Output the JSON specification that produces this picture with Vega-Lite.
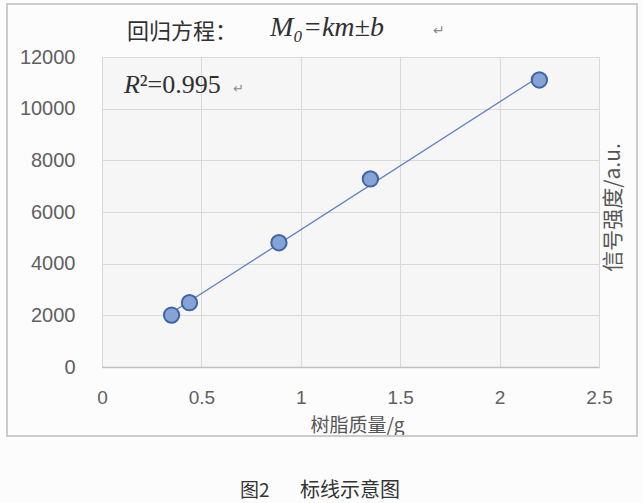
{
  "$schema": "https://vega.github.io/schema/vega-lite/v6.json",
  "autosize": {"type": "none"},
  "width": 497,
  "height": 310,
  "padding": {"left": 102, "top": 57, "right": 44, "bottom": 136},
  "background": "#fcfcfc",
  "view": {"fill": "#f6f6f6", "stroke": null},
  "data": {"values": [{}]},
  "config": {
    "axis": {
      "grid": true,
      "gridColor": "#d9d9d9",
      "gridWidth": 1,
      "ticks": false,
      "tickSize": 0,
      "labelFlush": false,
      "labelFont": "Liberation Sans",
      "labelFontSize": 20,
      "labelColor": "#606060",
      "titleFont": "Noto Sans CJK SC",
      "titleFontSize": 19,
      "titleFontWeight": "normal",
      "titleColor": "#555555"
    }
  },
  "datasets": {
    "calib": [
      {"mass": 0.35, "signal": 2010},
      {"mass": 0.44, "signal": 2490},
      {"mass": 0.89, "signal": 4810},
      {"mass": 1.35, "signal": 7280},
      {"mass": 2.2, "signal": 11110}
    ]
  },
  "layer": [
    {
      "data": {"name": "calib"},
      "mark": {"type": "circle", "opacity": 0},
      "encoding": {
        "x": {
          "field": "mass",
          "type": "quantitative",
          "scale": {"domain": [0, 2.5], "nice": false, "zero": true},
          "axis": {
            "values": [0, 0.5, 1, 1.5, 2, 2.5],
            "format": "~g",
            "domain": true,
            "domainColor": "#bfbfbf",
            "domainWidth": 1.5,
            "labelPadding": 21,
            "labelFontSize": 19,
            "title": "树脂质量/g",
            "titleX": 255,
            "titleY": 64,
            "titleAlign": "center",
            "titleBaseline": "alphabetic"
          }
        },
        "y": {
          "field": "signal",
          "type": "quantitative",
          "scale": {"domain": [0, 12000], "nice": false},
          "axis": {
            "values": [0, 2000, 4000, 6000, 8000, 10000, 12000],
            "format": "d",
            "domain": false,
            "labelPadding": 27,
            "title": "信号强度/a.u.",
            "titleAngle": 270,
            "titleX": 511,
            "titleY": 150,
            "titleAlign": "center",
            "titleBaseline": "middle",
            "titleFontSize": 21
          }
        }
      }
    },
    {
      "mark": {"type": "rect", "fill": null, "stroke": "#cbcbcb", "strokeWidth": 2},
      "encoding": {
        "x": {"datum": -0.478, "type": "quantitative"},
        "x2": {"datum": 2.691},
        "y": {"datum": 14052, "type": "quantitative"},
        "y2": {"datum": -2671}
      }
    },
    {
      "data": {"name": "calib"},
      "transform": [{"regression": "signal", "on": "mass", "method": "linear"}],
      "mark": {"type": "line", "color": "#5b80c0", "strokeWidth": 1.3},
      "encoding": {
        "x": {"field": "mass", "type": "quantitative"},
        "y": {"field": "signal", "type": "quantitative"}
      }
    },
    {
      "data": {"name": "calib"},
      "mark": {"type": "circle", "size": 235, "fill": "#86a3d7", "fillOpacity": 1, "stroke": "#3f64a6", "strokeWidth": 2},
      "encoding": {
        "x": {"field": "mass", "type": "quantitative"},
        "y": {"field": "signal", "type": "quantitative"}
      }
    },
    {
      "mark": {"type": "text", "text": "回归方程：", "font": "Noto Sans CJK SC", "fontSize": 22, "align": "left", "baseline": "alphabetic", "color": "#303030"},
      "encoding": {
        "x": {"datum": 0.126, "type": "quantitative"},
        "y": {"datum": 12700, "type": "quantitative"}
      }
    },
    {
      "mark": {"type": "text", "text": "M₀=km±b", "font": "Liberation Serif", "fontStyle": "italic", "fontSize": 28, "align": "left", "baseline": "alphabetic", "color": "#303030"},
      "encoding": {
        "x": {"datum": 0.845, "type": "quantitative"},
        "y": {"datum": 12813, "type": "quantitative"}
      }
    },
    {
      "mark": {"type": "text", "text": "↵", "font": "DejaVu Sans", "fontSize": 14, "align": "left", "baseline": "alphabetic", "color": "#8a8a8a"},
      "encoding": {
        "x": {"datum": 1.665, "type": "quantitative"},
        "y": {"datum": 12850, "type": "quantitative"}
      }
    },
    {
      "mark": {"type": "text", "text": "R", "font": "Liberation Serif", "fontStyle": "italic", "fontSize": 26, "align": "left", "baseline": "alphabetic", "color": "#303030"},
      "encoding": {
        "x": {"datum": 0.111, "type": "quantitative"},
        "y": {"datum": 10607, "type": "quantitative"}
      }
    },
    {
      "mark": {"type": "text", "text": "²=0.995", "font": "Liberation Serif", "fontSize": 26, "align": "left", "baseline": "alphabetic", "color": "#303030"},
      "encoding": {
        "x": {"datum": 0.19, "type": "quantitative"},
        "y": {"datum": 10607, "type": "quantitative"}
      }
    },
    {
      "mark": {"type": "text", "text": "↵", "font": "DejaVu Sans", "fontSize": 13, "align": "left", "baseline": "alphabetic", "color": "#8a8a8a"},
      "encoding": {
        "x": {"datum": 0.66, "type": "quantitative"},
        "y": {"datum": 10607, "type": "quantitative"}
      }
    },
    {
      "mark": {"type": "text", "text": "图2", "font": "Noto Sans CJK SC", "fontSize": 19, "align": "left", "baseline": "alphabetic", "color": "#333333"},
      "encoding": {
        "x": {"datum": 0.694, "type": "quantitative"},
        "y": {"datum": -5032, "type": "quantitative"}
      }
    },
    {
      "mark": {"type": "text", "text": "标线示意图", "font": "Noto Sans CJK SC", "fontSize": 20, "align": "left", "baseline": "alphabetic", "color": "#333333"},
      "encoding": {
        "x": {"datum": 0.996, "type": "quantitative"},
        "y": {"datum": -5032, "type": "quantitative"}
      }
    }
  ]
}
